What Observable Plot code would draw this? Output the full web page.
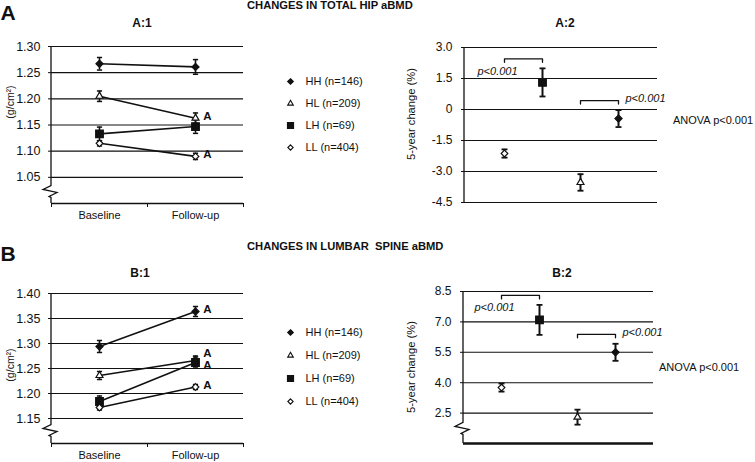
<!DOCTYPE html>
<html>
<head>
<meta charset="utf-8">
<script src="https://cdn.jsdelivr.net/npm/d3@7"></script>
<script src="https://cdn.jsdelivr.net/npm/@observablehq/plot@0.6"></script>
<style>
  html, body { margin: 0; padding: 0; background: #fff; }
  #fig { position: relative; width: 755px; height: 462px; overflow: hidden;
         font-family: "Liberation Sans", Arial, sans-serif; color: #111; }
  #fig svg { position: absolute; overflow: visible; }
  .t { position: absolute; white-space: nowrap; line-height: 1; }
  .c { transform: translate(-50%, -50%); }
  .l { transform: translate(0, -50%); }
  .r90 { transform: translate(-50%, -50%) rotate(-90deg); }
  .b { font-weight: bold; }
</style>
</head>
<body>
<div id="fig"></div>
<script>
// ---------------- DATA ----------------
const groups = ["HH", "HL", "LH", "LL"];
const groupN = [146, 209, 69, 404];
const timepoints = ["Baseline", "Follow-up"];
const changeOrder = ["LL", "LH", "HL", "HH"];

// A: total hip aBMD (g/cm2), order = groups
const hipBaseline   = [1.267, 1.205, 1.133, 1.115];
const hipBaselineSE = [0.012, 0.010, 0.013, 0.005];
const hipFollowup   = [1.261, 1.163, 1.147, 1.090];
const hipFollowupSE = [0.014, 0.010, 0.013, 0.006];
const hipSignificant = [false, true, false, true];
const hipChange   = [-0.44, -3.53, 1.31, -2.13];
const hipChangeSE = [0.41, 0.40, 0.68, 0.20];
const hipTicks = [1.05, 1.10, 1.15, 1.20, 1.25, 1.30];
const hipChangeTicks = [-4.5, -3.0, -1.5, 0, 1.5, 3.0];

// B: lumbar spine aBMD (g/cm2)
const spineBaseline   = [1.294, 1.236, 1.184, 1.172];
const spineBaselineSE = [0.012, 0.008, 0.011, 0.005];
const spineFollowup   = [1.364, 1.266, 1.262, 1.213];
const spineFollowupSE = [0.010, 0.009, 0.011, 0.005];
const spineSignificant = [true, true, true, true];
const spineChange   = [5.50, 2.30, 7.10, 3.76];
const spineChangeSE = [0.42, 0.37, 0.74, 0.20];
const spineTicks = [1.15, 1.20, 1.25, 1.30, 1.35, 1.40];
const spineChangeTicks = [2.5, 4.0, 5.5, 7.0, 8.5];

const comparisons = [
  {a: "LL", b: "LH", label: "p<0.001", place: "below"},
  {a: "HL", b: "HH", label: "p<0.001", place: "right"}
];
const anovaLabel = "ANOVA p<0.001";

// ---------------- STYLE ----------------
const INK = "#111";
const FONT = "'Liberation Sans', Arial, sans-serif";
const groupStyle = {
  HH: {symbol: "diamond2", fill: INK, r: 3.2},
  HL: {symbol: "triangle", fill: "white", r: 2.6},
  LH: {symbol: "square", fill: INK, r: 4.3},
  LL: {symbol: "diamond2", fill: "white", r: 3.0}
};
const capSymbol = {
  draw(ctx, size) { const w = Math.sqrt(size / Math.PI); ctx.moveTo(-w, 0); ctx.lineTo(w, 0); }
};
const baseStyle = {fontSize: "12px", fontFamily: FONT, color: INK, background: "transparent", overflow: "visible"};

// vertical axis line with optional zig-zag break
function axisLine(breakAt) {
  return (index, scales, values, dim) => {
    const x0 = dim.marginLeft;
    const top = dim.marginTop, bottom = dim.height - dim.marginBottom;
    const g = d3.create("svg:g").attr("fill", "none").attr("stroke", INK).attr("stroke-width", 1.3);
    if (breakAt == null) {
      g.append("path").attr("d", `M${x0},${top}V${bottom}`);
    } else {
      const yb = scales.y(breakAt);
      g.append("path").attr("d",
        `M${x0},${top}V${yb - 6}L${x0 - 8},${yb - 2}L${x0 + 6},${yb + 1}L${x0 - 2},${yb + 5}L${x0},${yb + 6}V${bottom}`);
    }
    return g.node();
  };
}

function place(el, left, top) {
  el.style.left = left + "px";
  el.style.top = top + "px";
  document.getElementById("fig").appendChild(el);
}

// ---------------- PANEL 1: BMD at baseline / follow-up ----------------
function bmdPanel({base, baseSE, fol, folSE, sig, ticks, domain, breakAt, top, height, marginTop, marginBottom}) {
  const rows = groups.flatMap((g, i) => [
    {group: g, t: 0, v: base[i], se: baseSE[i]},
    {group: g, t: 1, v: fol[i], se: folSE[i]}
  ]);
  const xOf = d => d.t + 0.5;
  const plotH = height - marginTop - marginBottom;
  const perPx = (domain[1] - domain[0]) / plotH;
  // significance labels, pushed apart when overlapping
  const labels = rows.filter(d => d.t === 1 && sig[groups.indexOf(d.group)])
    .map(d => ({...d, ly: d.v})).sort((a, b) => b.ly - a.ly);
  const minGap = 12 * perPx;
  for (let k = 0; k < 50; k++) {
    for (let i = 1; i < labels.length; i++) {
      const gap = labels[i - 1].ly - labels[i].ly;
      if (gap < minGap) {
        const m = (minGap - gap) / 2;
        labels[i - 1].ly += m; labels[i].ly -= m;
      }
    }
  }
  const svg = Plot.plot({
    width: 250, height, marginLeft: 51, marginRight: 7, marginTop, marginBottom,
    style: baseStyle,
    x: {domain: [0, 2]},
    y: {domain},
    marks: [
      Plot.ruleY(ticks, {stroke: INK, strokeWidth: 1.1}),
      Plot.ruleY([domain[0]], {stroke: INK, strokeWidth: 1.3}),
      axisLine(breakAt),
      Plot.axisY({ticks, tickFormat: d3.format(".2f"), tickSize: 3, tickPadding: 8, label: null, stroke: INK, fontSize: 12.5}),
      Plot.axisX({ticks: [0, 1, 2], tickSize: 4, tickFormat: () => "", label: null, stroke: INK}),
      Plot.axisX({ticks: [0.5, 1.5], tickSize: 0, tickPadding: 8, fontSize: 11,
                  tickFormat: d => timepoints[Math.floor(d)], label: null}),
      Plot.line(rows, {x: xOf, y: "v", z: "group", stroke: INK, strokeWidth: 1.6}),
      Plot.ruleX(rows, {x: xOf, y1: d => d.v - d.se, y2: d => d.v + d.se, stroke: INK, strokeWidth: 1.6}),
      Plot.dot(rows, {x: xOf, y: d => d.v - d.se, symbol: capSymbol, r: 2.6, fill: "none", stroke: INK, strokeWidth: 1.5}),
      Plot.dot(rows, {x: xOf, y: d => d.v + d.se, symbol: capSymbol, r: 2.6, fill: "none", stroke: INK, strokeWidth: 1.5}),
      ...groups.map(g => Plot.dot(rows.filter(d => d.group === g), {
        x: xOf, y: "v", symbol: groupStyle[g].symbol, r: groupStyle[g].r,
        fill: groupStyle[g].fill, stroke: INK, strokeWidth: 1.2
      })),
      Plot.text(labels, {x: xOf, y: "ly", text: () => "A", dx: 12, dy: -2, fontWeight: "bold", fontSize: 11.5, fill: INK})
    ]
  });
  svg.style.left = "0px"; svg.style.top = top + "px";
  document.getElementById("fig").appendChild(svg);
}

// ---------------- PANEL 2: 5-year change ----------------
function changePanel({values, se, ticks, domain, breakAt, fmt, top, height, marginTop, marginBottom, marginLeft, marginRight, bottomWidth}) {
  const rows = groups.map((g, i) => ({group: g, v: values[i], se: se[i]}));
  const byGroup = new Map(rows.map(d => [d.group, d]));
  const plotH = height - marginTop - marginBottom;
  const perPx = (domain[1] - domain[0]) / plotH;
  const brackets = comparisons.map(c => {
    const topV = Math.max(byGroup.get(c.a).v + byGroup.get(c.a).se, byGroup.get(c.b).v + byGroup.get(c.b).se);
    return {...c, y: topV + 9.5 * perPx};
  });
  const bracketPts = brackets.flatMap((c, i) => [
    {k: i, x: c.a, y: c.y - 3.5 * perPx}, {k: i, x: c.a, y: c.y},
    {k: i, x: c.b, y: c.y}, {k: i, x: c.b, y: c.y - 3.5 * perPx}
  ]);
  const svg = Plot.plot({
    width: 355, height, marginLeft, marginRight, marginTop, marginBottom,
    style: baseStyle,
    x: {type: "point", domain: changeOrder, padding: 1, axis: null},
    y: {domain},
    marks: [
      Plot.ruleY(ticks, {stroke: INK, strokeWidth: 1.1}),
      Plot.ruleY([domain[0]], {stroke: INK, strokeWidth: bottomWidth}),
      axisLine(breakAt),
      Plot.axisY({ticks, tickFormat: fmt, tickSize: 3, tickPadding: 9, label: null, stroke: INK, fontSize: 12}),
      Plot.line(bracketPts, {x: "x", y: "y", z: "k", stroke: INK, strokeWidth: 1.3}),
      Plot.text(brackets.filter(c => c.place === "below"), {x: "a", y: "y", text: "label", dx: -7, dy: 12.5,
        fontStyle: "italic", fontSize: 11, fill: INK}),
      Plot.text(brackets.filter(c => c.place === "right"), {x: "b", y: "y", text: "label", dx: 7, dy: -2,
        textAnchor: "start", fontStyle: "italic", fontSize: 11, fill: INK}),
      Plot.ruleX(rows, {x: "group", y1: d => d.v - d.se, y2: d => d.v + d.se, stroke: INK, strokeWidth: 2}),
      Plot.dot(rows, {x: "group", y: d => d.v - d.se, symbol: capSymbol, r: 3, fill: "none", stroke: INK, strokeWidth: 1.8}),
      Plot.dot(rows, {x: "group", y: d => d.v + d.se, symbol: capSymbol, r: 3, fill: "none", stroke: INK, strokeWidth: 1.8}),
      ...groups.map(g => Plot.dot(rows.filter(d => d.group === g), {
        x: "group", y: "v", symbol: groupStyle[g].symbol, r: groupStyle[g].r,
        fill: groupStyle[g].fill, stroke: INK, strokeWidth: 1.2
      }))
    ]
  });
  svg.style.left = "400px"; svg.style.top = top + "px";
  document.getElementById("fig").appendChild(svg);
}

// ---------------- LEGEND ----------------
function legend(top, span) {
  const items = groups.map((g, i) => ({group: g, label: `${g} (n=${groupN[i]})`}));
  const svg = Plot.plot({
    width: 110, height: span + 30, margin: 0,
    style: baseStyle,
    x: {domain: [0, 1], axis: null},
    y: {type: "point", domain: groups, range: [15, 15 + span], axis: null},
    marks: [
      ...groups.map(g => Plot.dot(items.filter(d => d.group === g), {
        y: "group", frameAnchor: "left", dx: 15,
        symbol: groupStyle[g].symbol, r: groupStyle[g].r * 0.8,
        fill: groupStyle[g].fill, stroke: INK, strokeWidth: 1.1
      })),
      Plot.text(items, {y: "group", text: "label", frameAnchor: "left", dx: 30, textAnchor: "start", fontSize: 11, fill: INK})
    ]
  });
  svg.style.left = "275px"; svg.style.top = top + "px";
  document.getElementById("fig").appendChild(svg);
}

// ---------------- TEXT ----------------
function text(str, cls, left, top, size, extra = "") {
  const el = document.createElement("div");
  el.className = "t " + cls;
  el.textContent = str;
  el.style.fontSize = size + "px";
  if (extra) el.style.cssText += extra;
  place(el, left, top);
}

// ---------------- BUILD ----------------
bmdPanel({base: hipBaseline, baseSE: hipBaselineSE, fol: hipFollowup, folSE: hipFollowupSE, sig: hipSignificant,
  ticks: hipTicks, domain: [1.00, 1.30], breakAt: 1.022, top: 30, height: 200, marginTop: 16, marginBottom: 27});
changePanel({values: hipChange, se: hipChangeSE, ticks: hipChangeTicks, domain: [-4.5, 3.0], breakAt: null,
  fmt: d => d === 0 ? "0" : d.toFixed(1), top: 30, height: 200, marginTop: 17, marginBottom: 28,
  marginLeft: 64, marginRight: 98, bottomWidth: 1.1});
bmdPanel({base: spineBaseline, baseSE: spineBaselineSE, fol: spineFollowup, folSE: spineFollowupSE, sig: spineSignificant,
  ticks: spineTicks, domain: [1.10, 1.40], breakAt: 1.125, top: 270, height: 192, marginTop: 23, marginBottom: 19});
changePanel({values: spineChange, se: spineChangeSE, ticks: spineChangeTicks, domain: [1.0, 8.5], breakAt: 1.72,
  fmt: d => d.toFixed(1), top: 270, height: 192, marginTop: 21, marginBottom: 19,
  marginLeft: 63, marginRight: 102, bottomWidth: 2.4});
legend(54, 90);
legend(305, 92);

text("A", "c b", 8, 12, 21);
text("CHANGES IN TOTAL HIP aBMD", "l b", 247, 6, 11.2);
text("A:1", "c b", 142, 23, 12);
text("A:2", "c b", 565, 23, 12);
text("(g/cm²)", "r90", 10, 102, 10.5);
text("5-year change (%)", "r90", 412, 114, 11.2);
text(anovaLabel, "l", 673, 120, 11);

text("B", "c b", 8, 253, 21);
text("CHANGES IN LUMBAR  SPINE aBMD", "l b", 247, 247, 11.2, "white-space:pre;");
text("B:1", "c b", 140, 273, 12);
text("B:2", "c b", 562, 273, 12);
text("(g/cm²)", "r90", 10, 365, 10.5);
text("5-year change (%)", "r90", 412, 367, 11.2);
text(anovaLabel, "l", 659, 367, 11);
</script>
</body>
</html>
